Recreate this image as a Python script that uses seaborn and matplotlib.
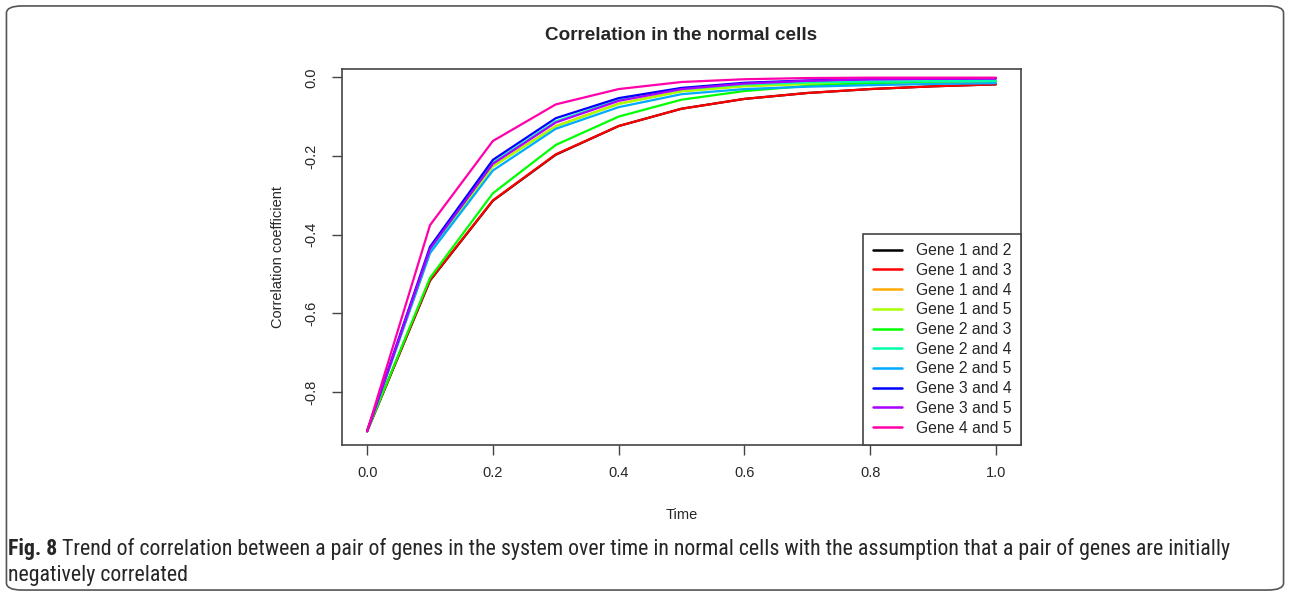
import numpy as np
import pandas as pd
import matplotlib
matplotlib.use('Agg')
import matplotlib.pyplot as plt
from matplotlib.patches import FancyBboxPatch
import seaborn as sns

# time points and correlation values
time = [0.0, 0.1, 0.2, 0.3, 0.4, 0.5, 0.6, 0.7, 0.8, 0.9, 1.0]

pairs = ['Gene 1 and 2', 'Gene 1 and 3', 'Gene 1 and 4', 'Gene 1 and 5', 'Gene 2 and 3',
         'Gene 2 and 4', 'Gene 2 and 5', 'Gene 3 and 4', 'Gene 3 and 5', 'Gene 4 and 5']

g12 = [-0.9, -0.517, -0.314, -0.197, -0.124, -0.080, -0.055, -0.040, -0.030, -0.023, -0.018]
g13 = [-0.9, -0.516, -0.313, -0.196, -0.124, -0.080, -0.055, -0.040, -0.030, -0.023, -0.018]
g14 = [-0.9, -0.445, -0.226, -0.124, -0.067, -0.035, -0.022, -0.016, -0.013, -0.011, -0.011]
g15 = [-0.9, -0.446, -0.227, -0.125, -0.068, -0.036, -0.023, -0.017, -0.014, -0.012, -0.011]
g23 = [-0.9, -0.510, -0.295, -0.172, -0.100, -0.057, -0.035, -0.022, -0.015, -0.011, -0.009]
g24 = [-0.9, -0.440, -0.217, -0.112, -0.058, -0.030, -0.018, -0.013, -0.011, -0.010, -0.009]
g25 = [-0.9, -0.447, -0.237, -0.131, -0.076, -0.043, -0.030, -0.024, -0.020, -0.017, -0.015]
g34 = [-0.9, -0.431, -0.210, -0.104, -0.053, -0.027, -0.014, -0.008, -0.005, -0.004, -0.003]
g35 = [-0.9, -0.436, -0.220, -0.115, -0.060, -0.030, -0.016, -0.009, -0.005, -0.004, -0.003]
g45 = [-0.9, -0.376, -0.162, -0.069, -0.030, -0.012, -0.005, -0.002, -0.001, -0.001, -0.001]

series = [g12, g13, g14, g15, g23, g24, g25, g34, g35, g45]
colors = ['#000000', '#FF0000', '#FFAA00', '#AAFF00', '#00FF00',
          '#00FFAA', '#00AAFF', '#0000FF', '#AA00FF', '#FF00AA']

caption_1 = ('Trend of correlation between a pair of genes in the system over time in normal cells '
             'with the assumption that a pair of genes are initially')
caption_2 = 'negatively correlated'

rows = []
for name, vals in zip(pairs, series):
    for t, v in zip(time, vals):
        rows.append({'Time': t, 'corr': v, 'pair': name})
df = pd.DataFrame(rows)

sns.set_style("white")
plt.rcParams['font.family'] = ['Liberation Sans', 'DejaVu Sans']

fig = plt.figure(figsize=(12.9, 5.96), dpi=100)
ax = fig.add_axes([0.2651, 0.2534, 0.5264, 0.6308])

sns.lineplot(data=df, x='Time', y='corr', hue='pair', hue_order=pairs,
             palette=dict(zip(pairs, colors)), linewidth=1.6, ax=ax)

ax.set_xlim(-0.04, 1.04)
ax.set_ylim(-0.935, 0.021)
ax.set_xticks([0.0, 0.2, 0.4, 0.6, 0.8, 1.0])
ax.set_xticklabels(['0.0', '0.2', '0.4', '0.6', '0.8', '1.0'])
ax.set_yticks([0.0, -0.2, -0.4, -0.6, -0.8])
ax.set_yticklabels(['0.0', '-0.2', '-0.4', '-0.6', '-0.8'], rotation=90, va='center')
ax.tick_params(axis='both', direction='out', length=7, width=1, color='#444444',
               labelsize=10.5, left=True, bottom=True)
ax.tick_params(axis='x', pad=8)
ax.tick_params(axis='y', pad=10)
for s in ax.spines.values():
    s.set_color('#444444')
    s.set_linewidth(1.2)

ax.set_xlabel('Time', fontsize=10.5, labelpad=20)
ax.set_ylabel('Correlation coefficient', fontsize=10.5, labelpad=14)
ax.set_title('Correlation in the normal cells', fontsize=13.6, fontweight='bold', pad=21)

leg = ax.legend(loc='lower right', borderaxespad=0, fancybox=False, framealpha=1,
                edgecolor='#444444', fontsize=11.3, handlelength=1.85, labelspacing=0.3,
                borderpad=0.6, handletextpad=0.9)
leg.get_frame().set_linewidth(1.2)
for line in leg.get_lines():
    line.set_linewidth(1.8)

# outer rounded frame of the figure panel
frame = FancyBboxPatch((0.005, 0.01), 0.99, 0.98, boxstyle='round,pad=0,rounding_size=0.012',
                       transform=fig.transFigure, fill=False, edgecolor='#555555', linewidth=1.2)
fig.patches.append(frame)

# caption, sized so the first line ends where it does in the original
cap_font = ['Roboto Condensed', 'PT Sans Narrow', 'DejaVu Sans']
line_end = 1233
size = 12
bold = fig.text(0.0065, 0.068, 'Fig. 8', fontsize=size, fontweight='bold', family=cap_font)
rest = fig.text(0, 0.068, caption_1, fontsize=size, family=cap_font)
for _ in range(3):
    fig.canvas.draw()
    x0 = bold.get_window_extent().x1 + 4
    rest.set_x(x0 / fig.bbox.width)
    fig.canvas.draw()
    width = rest.get_window_extent().x1 - bold.get_window_extent().x0
    size = size * (line_end - 8) / width
    bold.set_fontsize(size)
    rest.set_fontsize(size)
fig.canvas.draw()
rest.set_x((bold.get_window_extent().x1 + 4) / fig.bbox.width)
fig.text(0.0065, 0.026, caption_2, fontsize=size, family=cap_font)

fig.savefig('out.png', dpi=100)
